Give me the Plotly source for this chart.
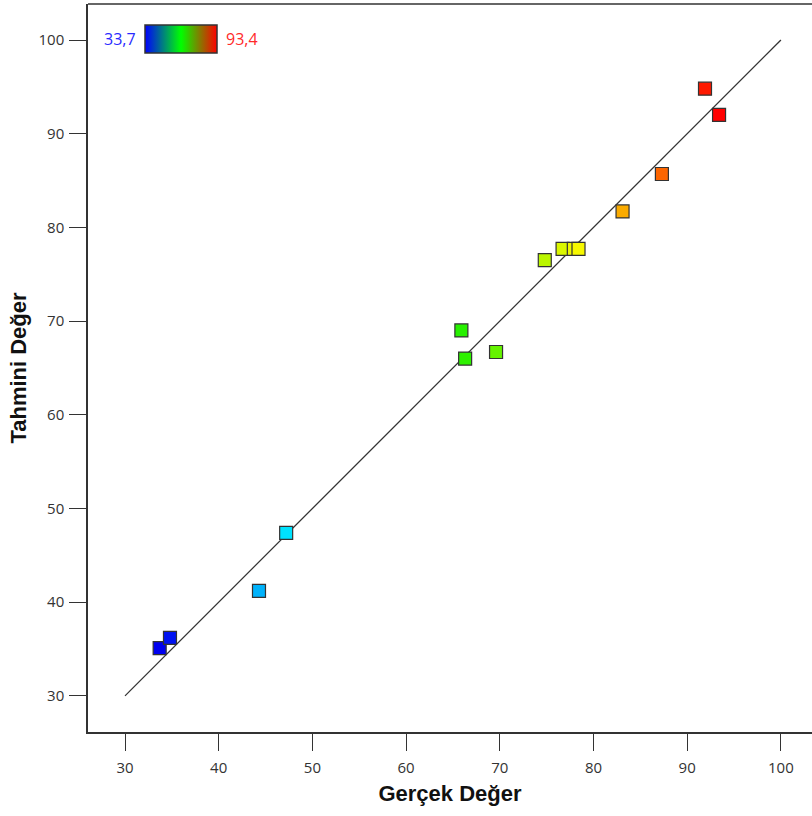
import plotly.graph_objects as go

actual = [33.7, 34.8, 44.3, 47.2, 65.9, 66.3, 69.6, 74.8, 76.7, 77.9, 78.4, 83.1, 87.3, 91.9, 93.4]
predicted = [35.1, 36.2, 41.2, 47.4, 69.0, 66.0, 66.7, 76.5, 77.7, 77.7, 77.7, 81.7, 85.7, 94.8, 92.0]
diag = [30, 100]
cmin_val, cmax_val = 33.7, 93.4
x_ticks = [30, 40, 50, 60, 70, 80, 90, 100]
y_ticks = [30, 40, 50, 60, 70, 80, 90, 100]

point_scale = [
    [0.0, "#0000F0"], [0.24, "#00F0FF"], [0.5, "#00F000"],
    [0.75, "#F8F800"], [1.0, "#FF0000"],
]
legend_scale = [[0.0, "#0000FF"], [0.5, "#00FF00"], [1.0, "#FF0000"]]

W, H = 812, 816
L, R, T, B = 88, 0, 4, 84
pw, ph = W - L - R, H - T - B
ppu = 9.37
x0 = 30 - (125 - L) / ppu
x1 = x0 + pw / ppu
y1 = 100 + (40 - T) / ppu
y0 = y1 - ph / ppu

fig = go.Figure()
fig.add_trace(go.Scatter(
    x=diag, y=diag, mode="lines",
    line=dict(color="#333333", width=1.3), showlegend=False, hoverinfo="skip",
))
fig.add_trace(go.Scatter(
    x=actual, y=predicted, mode="markers", showlegend=False,
    marker=dict(symbol="square", size=13, color=actual, cmin=cmin_val, cmax=cmax_val,
                colorscale=point_scale, line=dict(color="#333333", width=1.2)),
))
# colour legend bar
fig.add_trace(go.Scatter(
    x=[None, None], y=[None, None], mode="markers", showlegend=False, hoverinfo="skip",
    marker=dict(color=[cmin_val, cmax_val], cmin=cmin_val, cmax=cmax_val,
                colorscale=legend_scale, showscale=True,
                colorbar=dict(orientation="h", x=(145 - L) / pw, y=(H - B - 25) / ph,
                              xanchor="left", yanchor="top", xref="paper", yref="paper",
                              len=72, lenmode="pixels", thickness=28, thicknessmode="pixels",
                              xpad=0, ypad=0, showticklabels=False, ticks="",
                              outlinecolor="#333333", outlinewidth=1.5)),
))

tickfont = dict(family="Open Sans, Noto Sans, sans-serif", size=15, color="#333333")
titlefont = dict(family="Liberation Sans, Arial", size=22, color="#111111")
fig.update_xaxes(
    range=[x0, x1], tickvals=x_ticks, ticktext=[str(v) for v in x_ticks],
    showgrid=False, zeroline=False, showline=True, linecolor="#333333", linewidth=1.5,
    ticks="outside", ticklen=17, tickcolor="#333333", tickwidth=1.3, tickfont=tickfont,
    ticklabelstandoff=4,
    title=dict(text="<b>Gerçek Değer</b>", font=titlefont, standoff=10),
)
fig.update_yaxes(
    range=[y0, y1], tickvals=y_ticks, ticktext=[str(v) for v in y_ticks],
    showgrid=False, zeroline=False, showline=True, linecolor="#333333", linewidth=1.5,
    ticks="outside", ticklen=17, tickcolor="#333333", tickwidth=1.3, tickfont=tickfont,
    ticklabelstandoff=2,
    title=dict(text="<b>Tahmini Değer</b>", font=titlefont, standoff=6),
)
fig.add_shape(type="line", xref="paper", yref="paper", x0=0, x1=1, y0=1, y1=1,
              line=dict(color="#333333", width=1.5))
fig.add_annotation(text="33,7", xref="paper", yref="paper", x=(138 - L) / pw, y=(H - B - 39) / ph,
                   xanchor="right", yanchor="middle", showarrow=False,
                   font=dict(family="Open Sans, Noto Sans, sans-serif", size=16, color="#2a2aff"))
fig.add_annotation(text="93,4", xref="paper", yref="paper", x=(224 - L) / pw, y=(H - B - 39) / ph,
                   xanchor="left", yanchor="middle", showarrow=False,
                   font=dict(family="Open Sans, Noto Sans, sans-serif", size=16, color="#ff2a2a"))

fig.update_layout(
    width=W, height=H, margin=dict(l=L, r=R, t=T, b=B),
    paper_bgcolor="white", plot_bgcolor="white",
)
fig.write_html("out.html", config={"displayModeBar": False},
               post_script="document.body.style.margin='0px';")
